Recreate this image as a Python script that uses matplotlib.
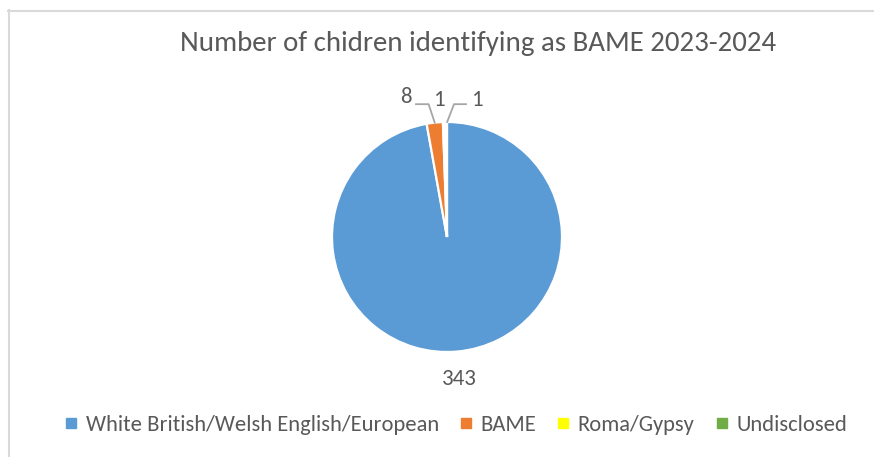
import numpy as np
import matplotlib
matplotlib.use("Agg")
import matplotlib.pyplot as plt
from matplotlib.lines import Line2D
from matplotlib import font_manager

categories = ["White British/Welsh English/European", "BAME", "Roma/Gypsy", "Undisclosed"]
values = [343, 8, 1, 1]
colors = ["#5B9BD5", "#ED7D31", "#FFFF00", "#70AD47"]
title = "Number of chidren identifying as BAME 2023-2024"

avail = {f.name for f in font_manager.fontManager.ttflist}
fam = "Carlito" if "Carlito" in avail else "Open Sans"
plt.rcParams["font.family"] = [fam, "DejaVu Sans"]
txt = "#595959"

W, H = 874, 457
fig = plt.figure(figsize=(W / 100, H / 100), dpi=100)
fig.patch.set_facecolor("white")

# chart border (top and left visible)
fig.add_artist(Line2D([8 / W, 1.0], [1 - 10.5 / H, 1 - 10.5 / H], color="#D9D9D9", lw=1.5))
fig.add_artist(Line2D([8.5 / W, 8.5 / W], [0, 1 - 10 / H], color="#D9D9D9", lw=1.5))

cx, cy, r = 447, 237, 115
ax = fig.add_axes([(cx - r) / W, (H - cy - r) / H, 2 * r / W, 2 * r / H])
wedges, _ = ax.pie(values, colors=colors, startangle=90, counterclock=False,
                   wedgeprops=dict(edgecolor="white", linewidth=1.6))
ax.set_xlim(-1, 1)
ax.set_ylim(-1, 1)
ax.set_aspect("equal")
ax.axis("off")

fs = 16.5
# big slice label
w0 = wedges[0]
a0 = np.deg2rad((w0.theta1 + w0.theta2) / 2)
ax.text(1.24 * np.cos(a0), 1.24 * np.sin(a0), str(values[0]), ha="center", va="center",
        fontsize=fs, color=txt)

# small slice labels with leaders
offsets = {1: (-0.36, 1.215), 2: (-0.06, 1.19), 3: (0.265, 1.19)}
for i in (1, 2, 3):
    w = wedges[i]
    a = np.deg2rad((w.theta1 + w.theta2) / 2)
    px, py = np.cos(a), np.sin(a)
    tx, ty = offsets[i]
    ax.text(tx, ty, str(values[i]), ha="center", va="center", fontsize=fs, color=txt)
    if i == 1:
        ax.plot([px, tx + 0.2, tx + 0.09], [py, 1.155, 1.155], color="#A6A6A6", lw=1.3, clip_on=False)
    if i == 3:
        ax.plot([px + 0.01, px + 0.07, tx - 0.1], [py, 1.155, 1.155], color="#A6A6A6", lw=1.3, clip_on=False)

fig.text(478 / W, 1 - 44 / H, title, ha="center", va="center", fontsize=20.8, color=txt)

handles = [Line2D([], [], marker="s", linestyle="none", markersize=6.5,
                  markerfacecolor=c, markeredgecolor=c) for c in colors]
fig.legend(handles, categories, loc="center", bbox_to_anchor=(455 / W, 1 - 425 / H),
           ncol=4, frameon=False, fontsize=16.2, labelcolor=txt, handletextpad=0.3,
           columnspacing=0.85, handlelength=0.7)

fig.savefig("out.png", dpi=100, facecolor="white")
